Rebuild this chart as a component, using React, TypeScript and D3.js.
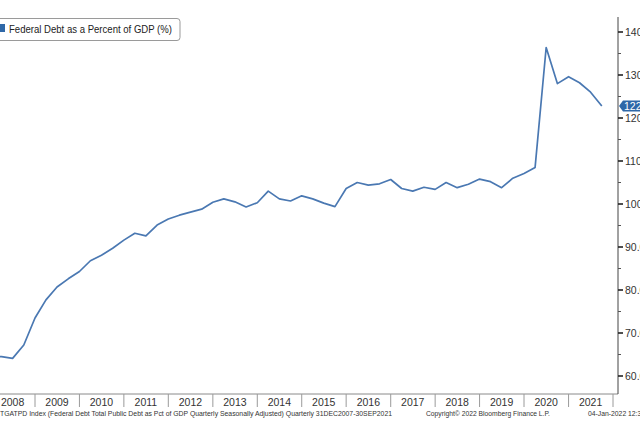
import React from "react";
import * as d3 from "d3";

const startYear = 2007;
const startQuarter = 4;
const debtPctGdp = [
  64.4,
  64.5, 64.1, 67.2, 73.5,
  77.7, 80.7, 82.6, 84.3,
  86.8, 88.1, 89.7, 91.6,
  93.2, 92.6, 95.1, 96.5,
  97.4, 98.1, 98.8, 100.4,
  101.2, 100.5, 99.3, 100.3,
  103.0, 101.2, 100.7, 101.9,
  101.2, 100.2, 99.4, 103.6,
  105.0, 104.4, 104.7, 105.7,
  103.6, 103.0, 103.9, 103.4,
  105.0, 103.8, 104.6, 105.8,
  105.2, 103.8, 106.0, 107.1,
  108.5, 136.4, 128.0, 129.6,
  128.2, 126.0, 122.8,
];
const yearLabels = ["2008", "2009", "2010", "2011", "2012", "2013", "2014", "2015", "2016", "2017", "2018", "2019", "2020", "2021"];
const yMajorTicks = [60, 70, 80, 90, 100, 110, 120, 130, 140];
const yMinorTicks = [65, 75, 85, 95, 105, 115, 125, 135];
const legendLabel = "Federal Debt as a Percent of GDP (%)";
const footerSource = "TGATPD Index (Federal Debt Total Public Debt as Pct of GDP Quarterly Seasonally Adjusted)  Quarterly 31DEC2007-30SEP2021";
const footerCopyright = "Copyright\u00A9 2022 Bloomberg Finance L.P.";
const footerDate = "04-Jan-2022 12:30:15";

// quarter-end dates (start of following quarter)
const points = debtPctGdp.map((v, i) => {
  const qIndex = startQuarter - 1 + i; // 0-based quarter count from startYear Q1
  const y = startYear + Math.floor((qIndex + 1) / 4);
  const m = ((qIndex + 1) % 4) * 3;
  return { date: new Date(y, m, 1), value: v };
});

const W = 640;
const H = 427;
const axisX = 618;
const plotTop = 17;
const plotBottom = 394;

const x = d3.scaleTime().domain([new Date(2009, 0, 1), new Date(2022, 0, 1)]).range([35, 613]);
const y = d3.scaleLinear().domain([60, 140]).range([376, 32]);

const FONT = "'Liberation Sans', Arial, sans-serif";
const LINE = "#4a78b2";
const BADGE = "#2f68a8";

export default function App() {
  const line = d3
    .line<{ date: Date; value: number }>()
    .x((d) => x(d.date))
    .y((d) => y(d.value));

  const last = points[points.length - 1];
  const by = y(last.value);

  return (
    <svg
      width={W}
      height={H}
      style={{ position: "absolute", left: 0, top: 0, background: "#fff" }}
      fontFamily={FONT}
    >
      <defs>
        <clipPath id="plot">
          <rect x={0} y={plotTop} width={axisX} height={plotBottom - plotTop} />
        </clipPath>
      </defs>
      <rect x={0} y={0} width={W} height={H} fill="#fff" />

      {/* line */}
      <path d={line(points) || ""} fill="none" stroke={LINE} strokeWidth={1.7} clipPath="url(#plot)" strokeLinejoin="round" />

      {/* x axis */}
      <line x1={0} x2={axisX} y1={plotBottom} y2={plotBottom} stroke="#8a8a8a" strokeWidth={1} />
      {yearLabels.map((lab) => {
        const yr = +lab;
        const xs = x(new Date(yr + 1, 0, 1));
        const xm = x(new Date(yr, 6, 1));
        return (
          <g key={lab}>
            <line x1={xs} x2={xs} y1={plotBottom} y2={407} stroke="#9a9a9a" strokeWidth={1} />
            <text x={xm} y={406} textAnchor="middle" fontSize={10.5} fill="#333">
              {lab}
            </text>
          </g>
        );
      })}

      {/* y axis */}
      <line x1={axisX} x2={axisX} y1={plotTop} y2={plotBottom} stroke="#444" strokeWidth={1} />
      {yMinorTicks.map((t) => (
        <line key={"m" + t} x1={axisX} x2={axisX + 3} y1={y(t)} y2={y(t)} stroke="#555" strokeWidth={1} />
      ))}
      {yMajorTicks.map((t) => (
        <g key={"M" + t}>
          <line x1={axisX} x2={axisX + 5} y1={y(t)} y2={y(t)} stroke="#222" strokeWidth={1.6} />
          <text x={625} y={y(t) + 3.6} fontSize={10.5} fill="#333">
            {t.toFixed(1)}
          </text>
        </g>
      ))}

      {/* last value badge */}
      <path
        d={`M${axisX + 1},${by} L${axisX + 5},${by - 5.5} L${W},${by - 5.5} L${W},${by + 5.5} L${axisX + 5},${by + 5.5} Z`}
        fill={BADGE}
      />
      <text x={624} y={by + 3.7} fontSize={10.5} fill="#fff">
        {last.value.toFixed(1)}
      </text>

      {/* legend */}
      <rect x={-4} y={18.5} width={184} height={22} rx={3} fill="#fff" stroke="#9a9a9a" strokeWidth={1} />
      <rect x={-3} y={24} width={8} height={8} fill={BADGE} />
      <text x={9} y={33} fontSize={10} fill="#222" textLength={163} lengthAdjust="spacingAndGlyphs">
        {legendLabel}
      </text>

      {/* footer */}
      <text x={0} y={416} fontSize={6.8} fill="#333" textLength={392} lengthAdjust="spacingAndGlyphs">
        {footerSource}
      </text>
      <text x={426} y={416} fontSize={6.8} fill="#333" textLength={124} lengthAdjust="spacingAndGlyphs">
        {footerCopyright}
      </text>
      <text x={588} y={416} fontSize={6.8} fill="#333">
        {footerDate}
      </text>
    </svg>
  );
}
